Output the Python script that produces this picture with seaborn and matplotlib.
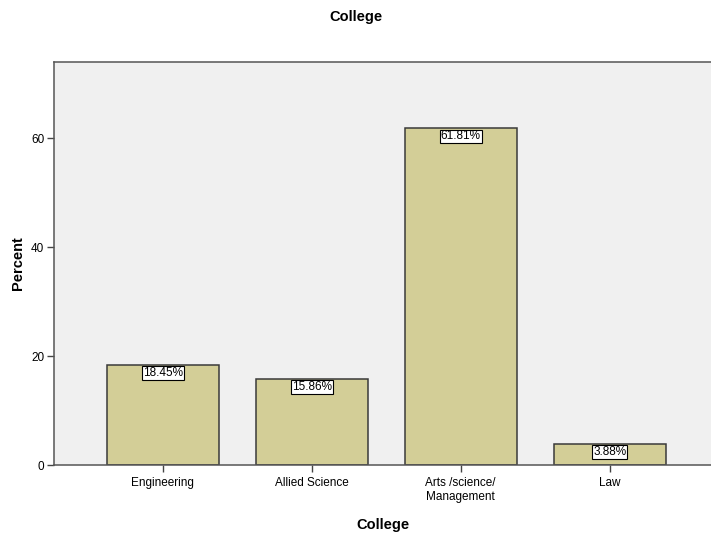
import matplotlib
matplotlib.use("Agg")
import matplotlib.pyplot as plt
import seaborn as sns
import pandas as pd

categories = ["Engineering", "Allied Science", "Arts /science/\nManagement", "Law"]
percents = [18.45, 15.86, 61.81, 3.88]

df = pd.DataFrame({"College": categories, "Percent": percents})

sns.set_style("white")
plt.rcParams["font.family"] = ["Liberation Sans", "DejaVu Sans"]
plt.rcParams["text.color"] = "black"
plt.rcParams["axes.labelcolor"] = "black"
plt.rcParams["xtick.color"] = "black"
plt.rcParams["ytick.color"] = "black"

fig = plt.figure(figsize=(7.11, 5.35), dpi=100)
ax = fig.add_axes([54 / 711, 70 / 535, (711 - 54) / 711, (465 - 62) / 535])
ax.set_facecolor("#F0F0F0")

sns.barplot(data=df, x="College", y="Percent", ax=ax, color="#D3CE97",
            saturation=1, width=0.75, edgecolor="#3a3a3a", linewidth=1.1)

for patch, val in zip(ax.patches, percents):
    cx = patch.get_x() + patch.get_width() / 2
    ax.annotate(f"{val:.2f}%", xy=(cx, val), xytext=(0, -1.5),
                textcoords="offset points", ha="center", va="top",
                fontsize=8.5, color="black",
                bbox=dict(boxstyle="square,pad=0.08", fc="white",
                          ec="black", lw=0.8))

ax.set_xlim(-0.73, 3.68)
ax.set_ylim(0, 74)
ax.set_yticks([0, 20, 40, 60])

for side in ["left", "bottom", "top", "right"]:
    ax.spines[side].set_color("#555555")
    ax.spines[side].set_linewidth(1.1)
ax.spines["right"].set_visible(False)

ax.tick_params(axis="both", which="both", direction="out", length=5,
               width=1, color="#444444", labelsize=8.5, labelcolor="black",
               bottom=True, left=True)
ax.tick_params(axis="x", pad=3.5)
ax.tick_params(axis="y", pad=2)
ax.set_xlabel("College", fontsize=10.5, fontweight="bold", labelpad=11)
ax.set_ylabel("Percent", fontsize=10.5, fontweight="bold", labelpad=4)
fig.suptitle("College", fontsize=10.5, fontweight="bold", x=0.5, y=0.982)

fig.savefig("out.png", dpi=100)
